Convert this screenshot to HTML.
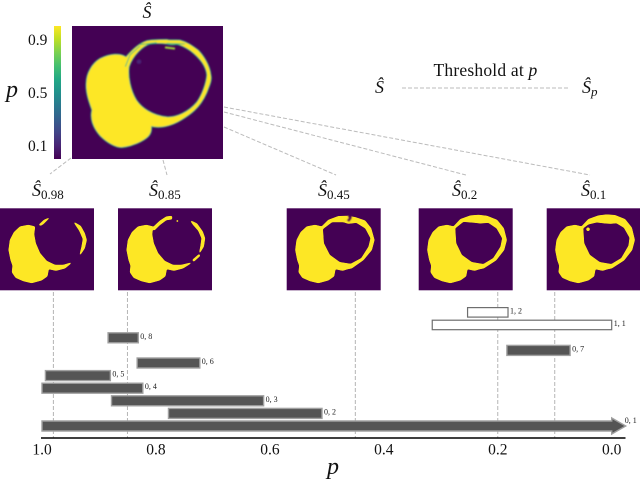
<!DOCTYPE html>
<html>
<head>
<meta charset="utf-8">
<style>
html,body{margin:0;padding:0;background:#fff;}
svg{display:block;font-family:"Liberation Serif",serif;}
</style>
</head>
<body>
<svg id="fig" xmlns="http://www.w3.org/2000/svg" width="640" height="480" viewBox="0 0 640 480">
<defs>
<linearGradient id="viridis" x1="0" y1="1" x2="0" y2="0">
<stop offset="0" stop-color="#440154"/><stop offset="0.1" stop-color="#482475"/><stop offset="0.2" stop-color="#414487"/><stop offset="0.3" stop-color="#355f8d"/><stop offset="0.4" stop-color="#2a788e"/><stop offset="0.5" stop-color="#21918c"/><stop offset="0.6" stop-color="#22a884"/><stop offset="0.7" stop-color="#44bf70"/><stop offset="0.8" stop-color="#7ad151"/><stop offset="0.9" stop-color="#bddf26"/><stop offset="1" stop-color="#fde725"/>
</linearGradient>
<filter id="soft" x="-5%" y="-5%" width="110%" height="110%"><feGaussianBlur stdDeviation="2"/></filter>
<filter id="thumbsoft" x="-5%" y="-5%" width="110%" height="110%" color-interpolation-filters="sRGB">
<feGaussianBlur stdDeviation="2.2"/>
<feComponentTransfer><feFuncA type="linear" slope="5" intercept="-1.4"/></feComponentTransfer>
</filter>
</defs>

<!-- main probability map -->
<rect x="54" y="26" width="7" height="133" fill="url(#viridis)"/>
<text x="12" y="97" font-size="24" font-style="italic" text-anchor="middle" fill="#111">p</text>
<text x="28" y="45" font-size="15.5" fill="#111">0.9</text>
<text x="28" y="98" font-size="15.5" fill="#111">0.5</text>
<text x="28" y="151" font-size="15.5" fill="#111">0.1</text>
<text x="147" y="18" font-size="18" font-style="italic" text-anchor="middle" fill="#111">Ŝ</text>
<g>
<rect x="72" y="26" width="151" height="133" fill="#440154"/>
<svg x="72" y="26" width="151" height="133" viewBox="216 78 453 399">
<g filter="url(#soft)">
<path d="M378,170 C360,158 330,160 300,175 C275,190 258,220 258,250 C256,280 268,310 275,330 C268,360 280,385 300,408 C320,428 345,443 365,443 C395,440 430,425 445,410 C455,400 455,390 455,380 C475,385 510,382 545,360 C570,345 600,325 620,280 C630,255 637,240 633,225 C630,195 610,165 595,150 C575,135 560,125 540,120 C525,118 510,122 500,118 C480,118 455,118 440,122 C415,130 395,150 378,170 Z M388,200 C384,230 392,270 410,300 C425,322 455,345 500,350 C530,352 565,335 590,306 C605,285 618,250 620,225 C618,200 600,175 570,152 C555,142 540,135 530,133 C515,135 510,135 500,132 C480,130 465,130 450,132 C430,138 400,165 388,200 Z" fill="#fde725" fill-rule="evenodd" stroke="#21a585" stroke-width="3"/>
<path d="M376,200 L390,165 L420,138" fill="none" stroke="#35b779" stroke-width="3"/>
<path d="M495,142 L525,146" fill="none" stroke="#a0da39" stroke-width="6"/>
<path d="M420,134 L470,128 M500,130 L555,132" fill="none" stroke="#35b779" stroke-width="3"/>
<circle cx="417" cy="185" r="7" fill="#482475"/>
</g>
</svg>
</g>

<!-- thumbnails -->
<g>
<rect x="0" y="208.3" width="94" height="82" fill="#440154"/>
<svg x="0" y="208.3" width="94" height="82" viewBox="0 100 282 246"><g fill="#fde725" filter="url(#thumbsoft)">
<path d="M105,155 L85,150 L60,155 L42,172 L30,195 L26,225 L32,255 L38,272 L36,292 L47,308 L70,318 L95,324 L125,316 L142,304 L146,282 L168,287 L195,280 L217,262 L190,270 L165,270 L140,258 L120,235 L107,205 L102,178 Z"/>
<path d="M116,150 L132,135 L152,126 L142,135 L130,147 L122,152 Z"/>
<path d="M220,140 L242,153 L254,175 L260,195 L254,220 L238,244 L245,215 L249,192 L238,167 Z"/>
</g></svg>
</g>
<g>
<rect x="118" y="208.3" width="94" height="82" fill="#440154"/>
<svg x="118" y="208.3" width="94" height="82" viewBox="0 100 282 246"><g fill="#fde725" filter="url(#thumbsoft)">
<path d="M105,155 L85,150 L60,155 L42,172 L30,195 L26,225 L32,255 L38,272 L36,292 L47,308 L70,318 L95,324 L125,316 L142,304 L146,282 L168,287 L195,280 L224,262 L190,270 L165,270 L140,258 L120,235 L107,205 L102,178 Z"/>
<path d="M104,158 L125,138 L145,125 L162,123 L162,133 L145,135 L125,150 L108,167 Z"/>
<circle cx="178" cy="138" r="3"/>
<path d="M216,136 L237,146 L254,170 L261,190 L257,215 L243,238 L248,212 L251,190 L241,167 L226,150 Z"/>
<path d="M243,238 L223,255 L227,260 L247,242 Z"/>
</g></svg>
</g>
<g>
<rect x="286.7" y="208.3" width="94" height="82" fill="#440154"/>
<svg x="286.7" y="208.3" width="94" height="82" viewBox="0 100 282 246"><g fill="#fde725" filter="url(#thumbsoft)">
<path d="M105,155 L85,150 L60,155 L42,172 L30,195 L26,225 L32,255 L38,272 L36,292 L47,308 L70,318 L95,324 L125,316 L142,304 L146,282 L168,287 L195,278 L215,263 L190,270 L165,270 L140,258 L120,235 L107,205 L102,178 Z"/>
<path fill-rule="evenodd" d="M100,160 L125,135 L155,124 L180,123 L205,127 L235,137 L253,160 L263,195 L255,225 L230,255 L195,280 L165,285 L130,270 L100,200 Z M108,162 L111,205 L129,240 L159,262 L192,267 L224,250 L246,215 L252,190 L236,160 L209,143 L185,146 L170,141 L136,141 Z"/>
<path d="M184,120 L194,120 L194,131 L187,140 L181,136 L187,130 Z" fill="#440154"/>
</g></svg>
</g>
<g>
<rect x="418.7" y="208.3" width="94" height="82" fill="#440154"/>
<svg x="418.7" y="208.3" width="94" height="82" viewBox="0 100 282 246"><g fill="#fde725" filter="url(#thumbsoft)">
<path d="M105,155 L85,150 L60,155 L42,172 L30,195 L26,225 L32,255 L38,272 L36,292 L47,308 L70,318 L95,324 L125,316 L142,304 L146,282 L168,287 L195,278 L215,263 L190,270 L165,270 L140,258 L120,235 L107,205 L102,178 Z"/>
<path fill-rule="evenodd" d="M100,160 L125,133 L155,122 L180,120 L205,123 L235,135 L255,160 L264,195 L256,225 L232,256 L195,280 L165,285 L130,270 L100,200 Z M109,160 L112,205 L129,240 L159,262 L194,268 L224,250 L246,215 L251,190 L234,160 L209,143 L184,145 L169,143 L134,140 Z"/>
</g></svg>
</g>
<g>
<rect x="546.7" y="208.3" width="94" height="82" fill="#440154"/>
<svg x="546.7" y="208.3" width="94" height="82" viewBox="0 100 282 246"><g fill="#fde725" filter="url(#thumbsoft)">
<path d="M105,155 L85,150 L60,155 L42,172 L30,195 L26,225 L32,255 L38,272 L36,292 L47,308 L70,318 L95,324 L125,316 L142,304 L146,282 L168,287 L195,278 L215,263 L190,270 L165,270 L140,258 L120,235 L107,205 L102,178 Z"/>
<path fill-rule="evenodd" d="M100,160 L125,133 L155,122 L180,119 L205,121 L235,133 L255,158 L264,195 L256,225 L232,256 L195,280 L165,285 L130,270 L100,200 Z M109,160 L112,205 L129,240 L159,262 L194,268 L224,250 L246,212 L249,188 L232,158 L209,144 L192,146 L175,145 L150,142 L125,148 Z"/>
<circle cx="124" cy="163" r="5"/>
</g></svg>
</g>

<!-- thumbnail titles -->
<g font-style="italic" font-size="18" fill="#111">
<text x="32" y="196">Ŝ<tspan font-style="normal" font-size="13" dy="3">0.98</tspan></text>
<text x="149" y="196">Ŝ<tspan font-style="normal" font-size="13" dy="3">0.85</tspan></text>
<text x="318" y="196">Ŝ<tspan font-style="normal" font-size="13" dy="3">0.45</tspan></text>
<text x="452" y="196">Ŝ<tspan font-style="normal" font-size="13" dy="3">0.2</tspan></text>
<text x="581" y="196">Ŝ<tspan font-style="normal" font-size="13" dy="3">0.1</tspan></text>
</g>

<!-- connectors -->
<g stroke="#bbbbbb" stroke-width="1" stroke-dasharray="4 2" fill="none">
<line x1="71" y1="158" x2="50" y2="174"/>
<line x1="163" y1="160" x2="167" y2="175"/>
<line x1="224" y1="127" x2="336" y2="175"/>
<line x1="224" y1="112" x2="466" y2="175"/>
<line x1="224" y1="107" x2="590" y2="175"/>
</g>

<!-- legend -->
<g fill="#111">
<text x="375" y="93" font-size="18" font-style="italic">Ŝ</text>
<line x1="402" y1="88" x2="568" y2="88" stroke="#bbbbbb" stroke-width="1" stroke-dasharray="4 2"/>
<text x="485.5" y="76" font-size="17.5" text-anchor="middle" letter-spacing="0.2">Threshold at <tspan font-style="italic">p</tspan></text>
<text x="582" y="93" font-size="18" font-style="italic">Ŝ<tspan font-size="13" dy="3">p</tspan></text>
</g>

<g id="plot"></g>
</svg>
<script>
var barLabels = ["0, 1","0, 2","0, 3","0, 4","0, 5","0, 6","0, 7","0, 8","1, 1","1, 2"];
var births = [1.0,0.778,0.878,1.0,0.994,0.833,0.184,0.884,0.315,0.253];
var deaths = [0.0,0.5085,0.611,0.823,0.880,0.723,0.073,0.831,0.0,0.182];
var homologyDims = [0,0,0,0,0,0,0,0,1,1];
var tickValues = [1.0,0.8,0.6,0.4,0.2,0.0];
var tickLabels = ["1.0","0.8","0.6","0.4","0.2","0.0"];
var thresholds = [0.98,0.85,0.45,0.2,0.1];

function xScale(p){ return 42 + (1 - p) * 569.7; }
function yScale(row){ return 421 - row * 12.6; }

var NS = "http://www.w3.org/2000/svg";
var plot = document.getElementById("plot");
function make(tag, attrs){
  var el = document.createElementNS(NS, tag);
  for (var k in attrs) el.setAttribute(k, attrs[k]);
  plot.appendChild(el);
  return el;
}

thresholds.forEach(function(t){
  var el = make("line", {x1:xScale(t), x2:xScale(t), y1:292, y2:438, stroke:"#b5b5b5", "stroke-width":1, "stroke-dasharray":"4 2"});
  
  
});

barLabels.forEach(function(label, i){
  var x1 = xScale(births[i]);
  var x2 = xScale(deaths[i]);
  var y = yScale(i);
  var dark = homologyDims[i] === 0;
  var bar;
  if (i === 0) {
    var tip = x2 + 14;
    bar = make("path", {d:"M"+x1+","+y+" H"+x2+" V"+(y-3)+" L"+tip+","+(y+5)+" L"+x2+","+(y+13)+" V"+(y+10)+" H"+x1+" Z", fill:"#555555", stroke:"#a0a0a0", "stroke-width":1.4});
    var t0 = make("text", {x:tip - 1, y:y + 2, "font-size":8, fill:"#222"});
    t0.textContent = label;
    
    
  } else {
    bar = make("rect", {x:x1, y:y, width:x2 - x1, height:dark ? 10 : 9.5, fill:dark ? "#555555" : "#ffffff", stroke:dark ? "#a0a0a0" : "#6e6e6e", "stroke-width":dark ? 1.4 : 1.2});
    var t = make("text", {x:x2 + 2, y:y + 6, "font-size":8, fill:"#222"});
    t.textContent = label;
    
    
  }
  
  
});

var axis = make("line", {x1:41, x2:625.5, y1:438, y2:438, stroke:"#000", "stroke-width":1.6});



tickValues.forEach(function(v, i){
  var t = make("text", {x:xScale(v), y:454.5, "font-size":15.5, "text-anchor":"middle", fill:"#111"});
  t.textContent = tickLabels[i];
  
  
});

var xt = make("text", {x:333, y:474, "font-size":24, "font-style":"italic", "text-anchor":"middle", fill:"#111"});
xt.textContent = "p";


</script>
</body>
</html>
